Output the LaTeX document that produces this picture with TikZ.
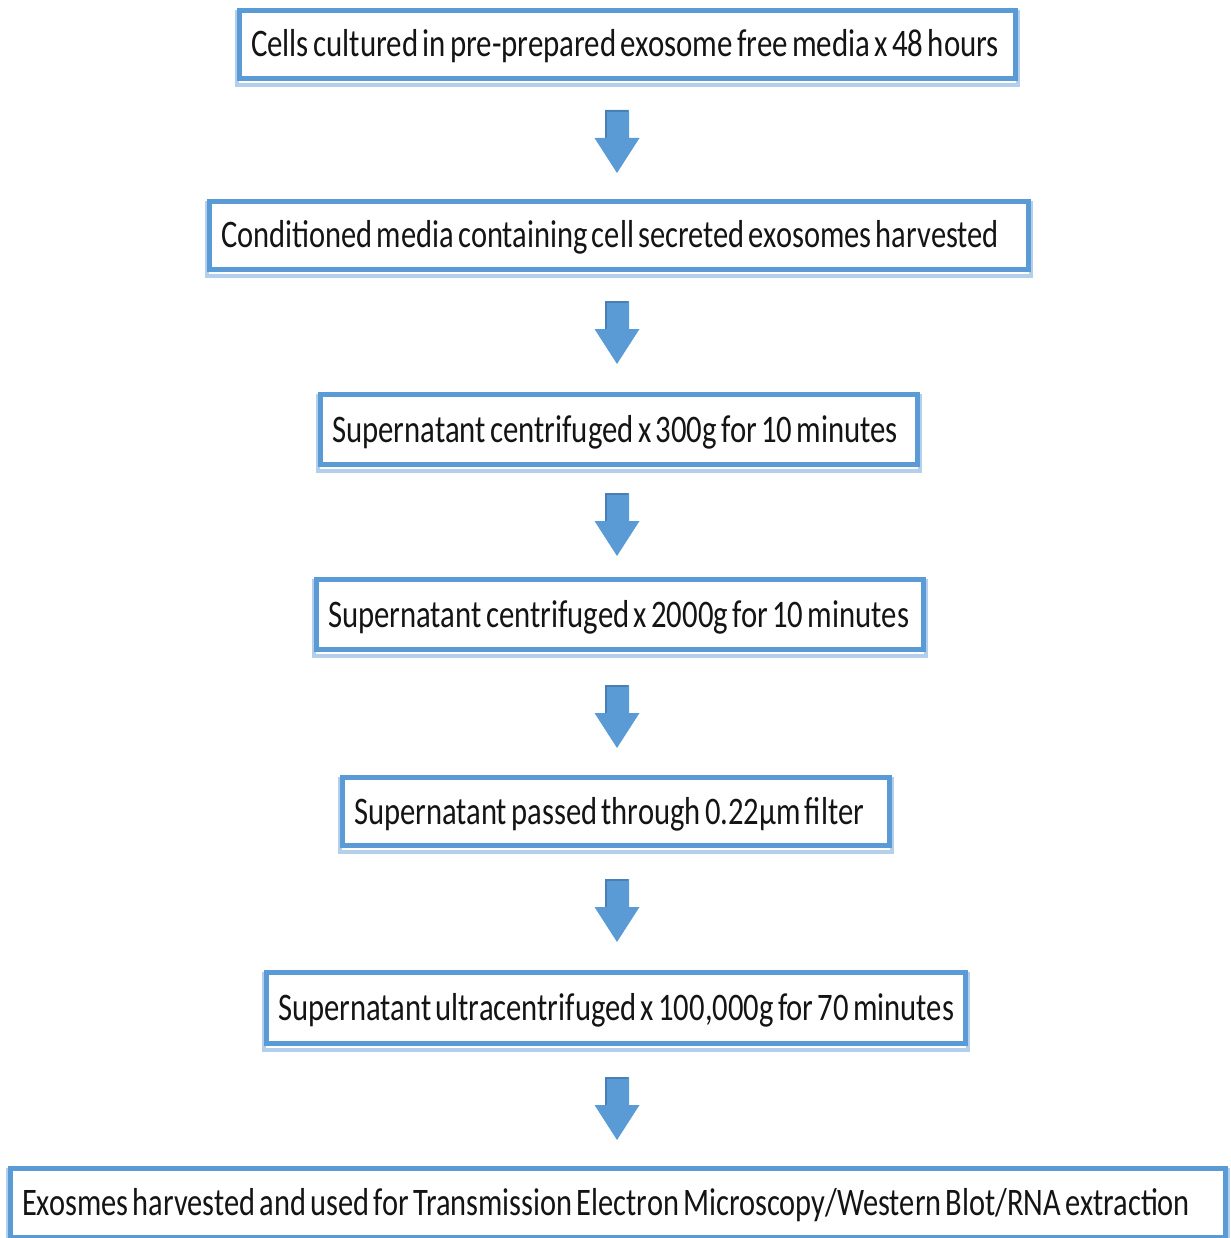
\documentclass[tikz,border=0pt]{standalone}
\usepackage{fontspec}
\setmainfont{Carlito}
\usetikzlibrary{backgrounds}
\definecolor{boxblue}{HTML}{5B9BD5}
\definecolor{boxlight}{HTML}{B4CFEB}
\definecolor{arrowblue}{HTML}{5B9BD5}
\definecolor{arrowdark}{HTML}{4A7FB5}
\definecolor{txt}{HTML}{141414}
\newcommand{\fitw}[2]{\resizebox{#1}{\height}{\spaceskip=0.14em\relax #2\rule[-8pt]{0pt}{41pt}}}
\begin{document}
\begin{tikzpicture}[x=1pt,y=-1pt,
  stepbox/.style={draw=boxblue, line width=5pt, fill=white, inner xsep=11.5pt,
    inner ysep=0pt, align=left, font=\fontsize{39}{44}\selectfont, text=txt},
  shadowline/.style={draw=boxlight, line width=4pt},
  blockarrow/.pic={
    \fill[arrowblue] (-12,0) -- (12,0) -- (12,28) -- (22.5,28) -- (0,63)
      -- (-22.5,28) -- (-12,28) -- cycle;
    \draw[arrowdark, line width=2pt] (-11,28) -- (-11,1) -- (11,1);
  }]
\useasboundingbox (0,0) rectangle (1230,1238);

\node[stepbox, minimum height=68pt, text width=753pt] (b1) at (627.5,44.5)
  {\fitw{748pt}{Cells cultured in pre-prepared exosome free media x 48 hours}};
\node[stepbox, minimum height=68pt, text width=796pt] (b2) at (619,235.5)
  {\fitw{778pt}{Conditioned media containing cell secreted exosomes harvested}};
\node[stepbox, minimum height=70pt, text width=574pt] (b3) at (619,429.5)
  {\fitw{566pt}{Supernatant centrifuged x 300g for 10 minutes}};
\node[stepbox, minimum height=70pt, text width=584pt] (b4) at (620,614.5)
  {\fitw{581pt}{Supernatant centrifuged x 2000g for 10 minutes}};
\node[stepbox, minimum height=68pt, text width=524pt] (b5) at (616,811.5)
  {\fitw{510pt}{Supernatant passed through 0.22µm filter}};
\node[stepbox, minimum height=71pt, text width=676pt] (b6) at (616,1008)
  {\fitw{676pt}{Supernatant ultracentrifuged x 100,000g for 70 minutes}};
\node[stepbox, minimum height=69pt, text width=1192pt] (b7) at (618,1203)
  {\fitw{1168pt}{Exosmes harvested and used for Transmission Electron Microscopy/Western Blot/RNA extraction}};

\begin{scope}[on background layer]
  \foreach \b in {b1,b2,b3,b4,b5,b6,b7}
    \draw[shadowline] ([shift={(0,4)}]\b.north west) rectangle ([shift={(0,4)}]\b.south east);
\end{scope}

\pic at (617,110) {blockarrow};
\pic at (617,301) {blockarrow};
\pic at (617,493) {blockarrow};
\pic at (617,685) {blockarrow};
\pic at (617,879) {blockarrow};
\pic at (617,1077) {blockarrow};
\end{tikzpicture}
\end{document}
